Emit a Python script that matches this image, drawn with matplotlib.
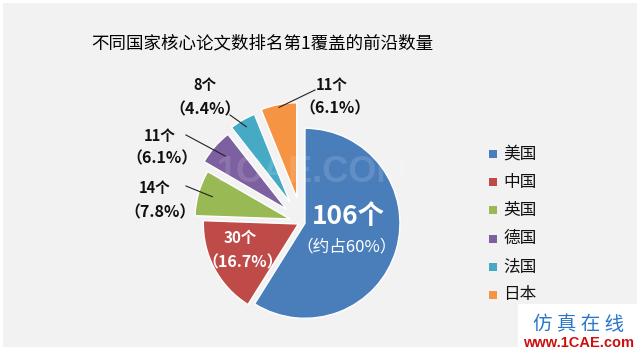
import matplotlib
matplotlib.use('Agg')
import matplotlib.pyplot as plt
from matplotlib.patches import Rectangle
import numpy as np

# ---- data ----
title = '不同国家核心论文数排名第1覆盖的前沿数量'
countries = ['美国', '中国', '英国', '德国', '法国', '日本']
counts = [106, 30, 14, 11, 8, 11]
count_labels = ['106个', '30个', '14个', '11个', '8个', '11个']
pct_labels = ['（约占60%）', '（16.7%）', '（7.8%）', '（6.1%）', '（4.4%）', '（6.1%）']

# ---- style ----
colors = ['#4A7EBB', '#BE4B48', '#98B954', '#7D60A0', '#46AAC5', '#F59443']
explode_px = [3.6, 3.6, 12, 20, 23, 25]
CJK = ['Noto Sans CJK SC', 'DejaVu Sans']
plt.rcParams['font.family'] = CJK

W, H = 640, 351
fig = plt.figure(figsize=(W / 100, H / 100), dpi=100)
fig.patch.set_facecolor('white')
fig.patches.append(Rectangle((3 / W, 4 / H), 634 / W, 344 / H, transform=fig.transFigure,
                             facecolor='#F2F2F2', edgecolor='none', zorder=-10))
ax = fig.add_axes([0, 0, 1, 1], zorder=1)
ax.patch.set_alpha(0)

cx, cy, R = 301.5, 128.7, 95
wedges, _ = ax.pie(counts, colors=colors, explode=explode_px, startangle=90,
                   counterclock=False, radius=R, center=(cx, cy),
                   wedgeprops=dict(edgecolor='white', linewidth=1.0))
ax.set_xlim(0, W)
ax.set_ylim(0, H)
ax.axis('off')

# watermark
ax.text(312, 178, '1CAE.COM', fontsize=26, fontweight='bold', color='white', alpha=0.13,
        ha='center', va='center', family=['Liberation Sans'])

# title
ax.text(262, 308, title, fontsize=12.6, fontweight='medium', ha='center', va='center',
        color='#000000')

# inside labels
ax.text(348, 134, count_labels[0], fontsize=19, fontweight='bold', color='white',
        ha='center', va='center')
ax.text(347, 104, pct_labels[0], fontsize=12, color='white', ha='center', va='center')
ax.text(240, 113, count_labels[1], fontsize=11, fontweight='bold', color='white',
        ha='center', va='center')
ax.text(243, 89, pct_labels[1], fontsize=11.5, fontweight='bold', color='white',
        ha='center', va='center')

# outside labels with leader lines
label_pos = {2: ((155, 163), (160, 139), (186, 165), 0.85),
             3: ((160, 215), (162, 193), (186, 216), 0.85),
             4: ((205, 266), (205, 242), (230, 236), 0.92),
             5: ((332, 266), (335, 243), (315, 261), 0.97)}
for i, (p1, p2, ls, frac) in label_pos.items():
    w = wedges[i]
    th = np.deg2rad((w.theta1 + w.theta2) / 2)
    ex = w.center[0] + frac * w.r * np.cos(th)
    ey = w.center[1] + frac * w.r * np.sin(th)
    ax.plot([ls[0], ex], [ls[1], ey], color='#222222', lw=0.8)
    ax.text(p1[0], p1[1], count_labels[i], fontsize=10.5, fontweight='bold', color='#111111',
            ha='center', va='center')
    ax.text(p2[0], p2[1], pct_labels[i], fontsize=11.5, fontweight='bold', color='#111111',
            ha='center', va='center')

# legend
for i, (name, col) in enumerate(zip(countries, colors)):
    y = 197 - i * 28.2
    ax.add_patch(Rectangle((489, y - 4), 8, 8, facecolor=col, edgecolor='none'))
    ax.text(503, y, name, fontsize=12, ha='left', va='center', color='#111111')

# logo
ax.add_patch(Rectangle((518, 0), 122, 47, facecolor='white', edgecolor='none'))
ax.text(579, 27, '仿 真 在 线', fontsize=14, color='#2A78C8', ha='center', va='center')
ax.text(579, 8, 'www.1CAE.com', fontsize=10.5, fontweight='bold', color='#CC1010',
        ha='center', va='center', family=['Liberation Sans'])

fig.savefig('out.png', dpi=100, facecolor=fig.get_facecolor())
